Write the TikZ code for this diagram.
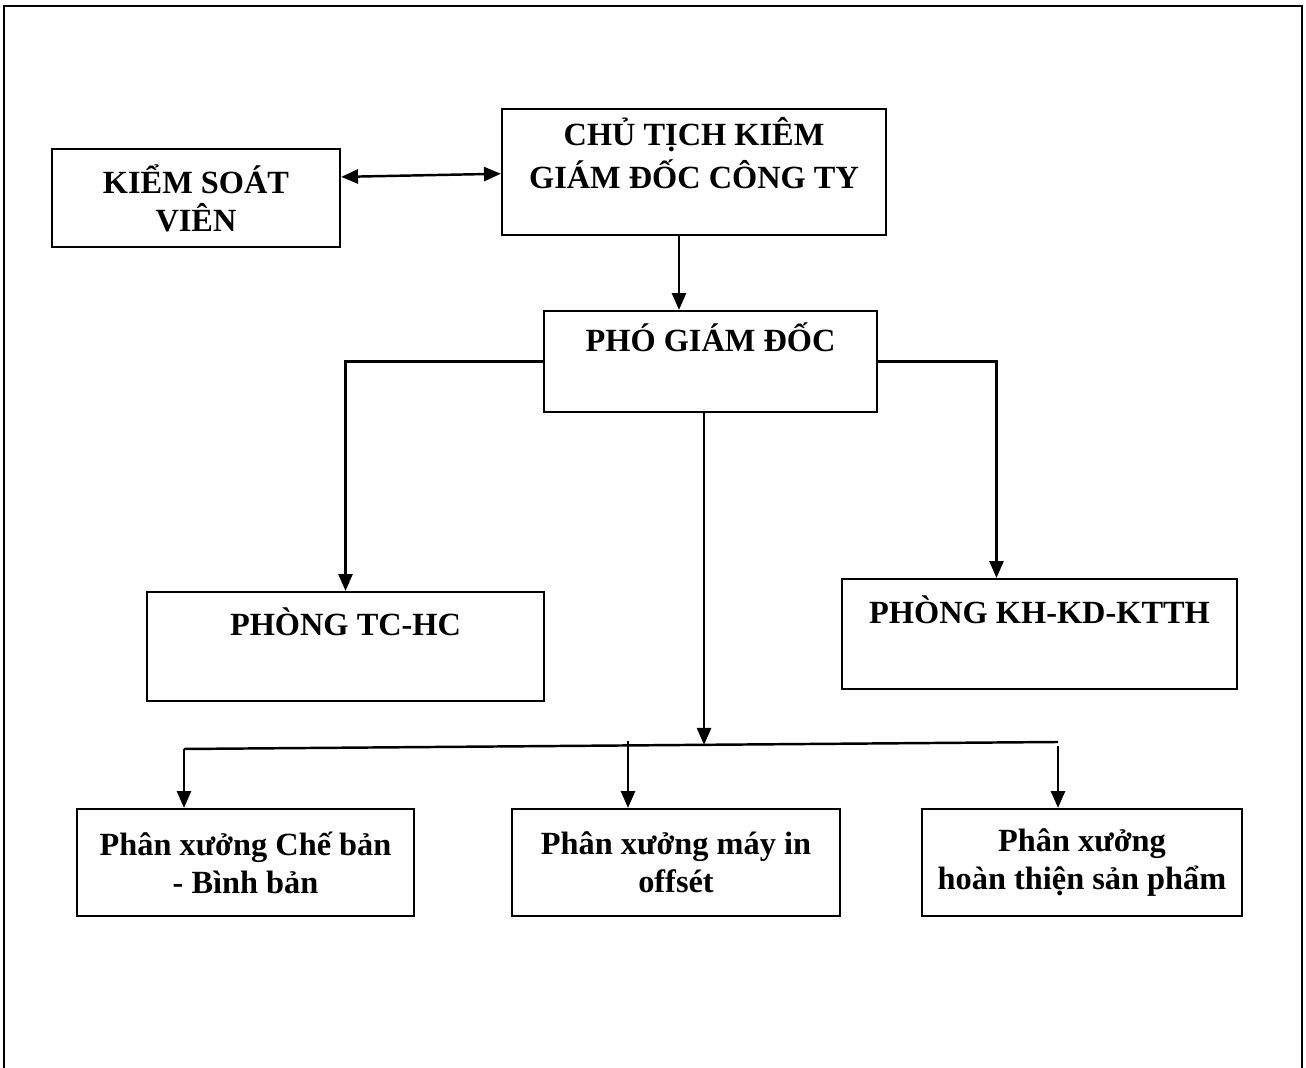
\documentclass[tikz,border=0pt]{standalone}
\usepackage{fontspec}
\setmainfont{Liberation Serif}
\usetikzlibrary{arrows.meta,calc}

\begin{document}
\begin{tikzpicture}[x=0.01cm,y=-0.01cm,
  every node/.style={draw,line width=0.6pt,align=center,inner sep=0pt,
    font=\fontsize{9.2}{10.8}\selectfont\bfseries},
  arr/.style={line width=0.7pt,-{Triangle[length=4.8pt,width=4pt]}},
  biarr/.style={line width=0.7pt,{Triangle[length=4.8pt,width=4pt]}-{Triangle[length=4.8pt,width=4pt]}}]

% ( Note that y grows downwards: one unit is one pixel of the page )
\useasboundingbox (0,0) rectangle (1306,1068);
\draw[line width=0.8pt] (4,1068) -- (4,6) -- (1302,6) -- (1302,1068);

\path
(196,198) node[minimum width=2.88cm,minimum height=0.98cm](ksv){KIỂM SOÁT\\VIÊN}
(694,172) node[minimum width=3.84cm,minimum height=1.26cm](ct){\strut CHỦ TỊCH KIÊM\\GIÁM ĐỐC CÔNG TY\\\mbox{}}
(710.5,361.5) node[minimum width=3.33cm,minimum height=1.01cm](pgd){\strut PHÓ GIÁM ĐỐC\\\strut}
(345.5,646.5) node[minimum width=3.97cm,minimum height=1.09cm](tchc){\strut PHÒNG TC-HC\\\strut}
(1039.5,634) node[minimum width=3.95cm,minimum height=1.10cm](kh){\strut PHÒNG KH-KD-KTTH\\\strut}
(245.5,862.5) node[minimum width=3.37cm,minimum height=1.07cm](px1){Phân xưởng Chế bản\\- Bình bản}
(676,862.5) node[minimum width=3.28cm,minimum height=1.07cm](px2){Phân xưởng máy in\\offsét}
(1082,862.5) node[minimum width=3.20cm,minimum height=1.07cm](px3){Phân xưởng\\hoàn thiện sản phẩm};

\coordinate (ctdn) at ($(ct.south)+(-15,0)$);
\coordinate (khup) at ($(kh.north)+(-43,0)$);
\coordinate (busL) at (184,749);
\coordinate (busR) at (1058,742);
\coordinate (busM) at ($(busL)!0.595!(busR)$);
\coordinate (tapB) at (628,741);
\coordinate (tapC) at (1058,746);

\draw[biarr] ([yshift=6pt]ksv.east) -- ([yshift=-0.5pt]ct.west);
\draw[arr] (ctdn) -- (ctdn |- pgd.north);
\draw[arr] (pgd.west) -| (tchc.north);
\draw[arr] (pgd.east) -| (khup);
\draw[arr] (pgd.south -| busM) -- (busM);
\draw[line width=0.7pt] (busL) -- (busR);
\draw[arr] (busL) -- (busL |- px1.north);
\draw[arr] (tapB) -- (tapB |- px2.north);
\draw[arr] (tapC) -- (tapC |- px3.north);
\end{tikzpicture}
\end{document}
